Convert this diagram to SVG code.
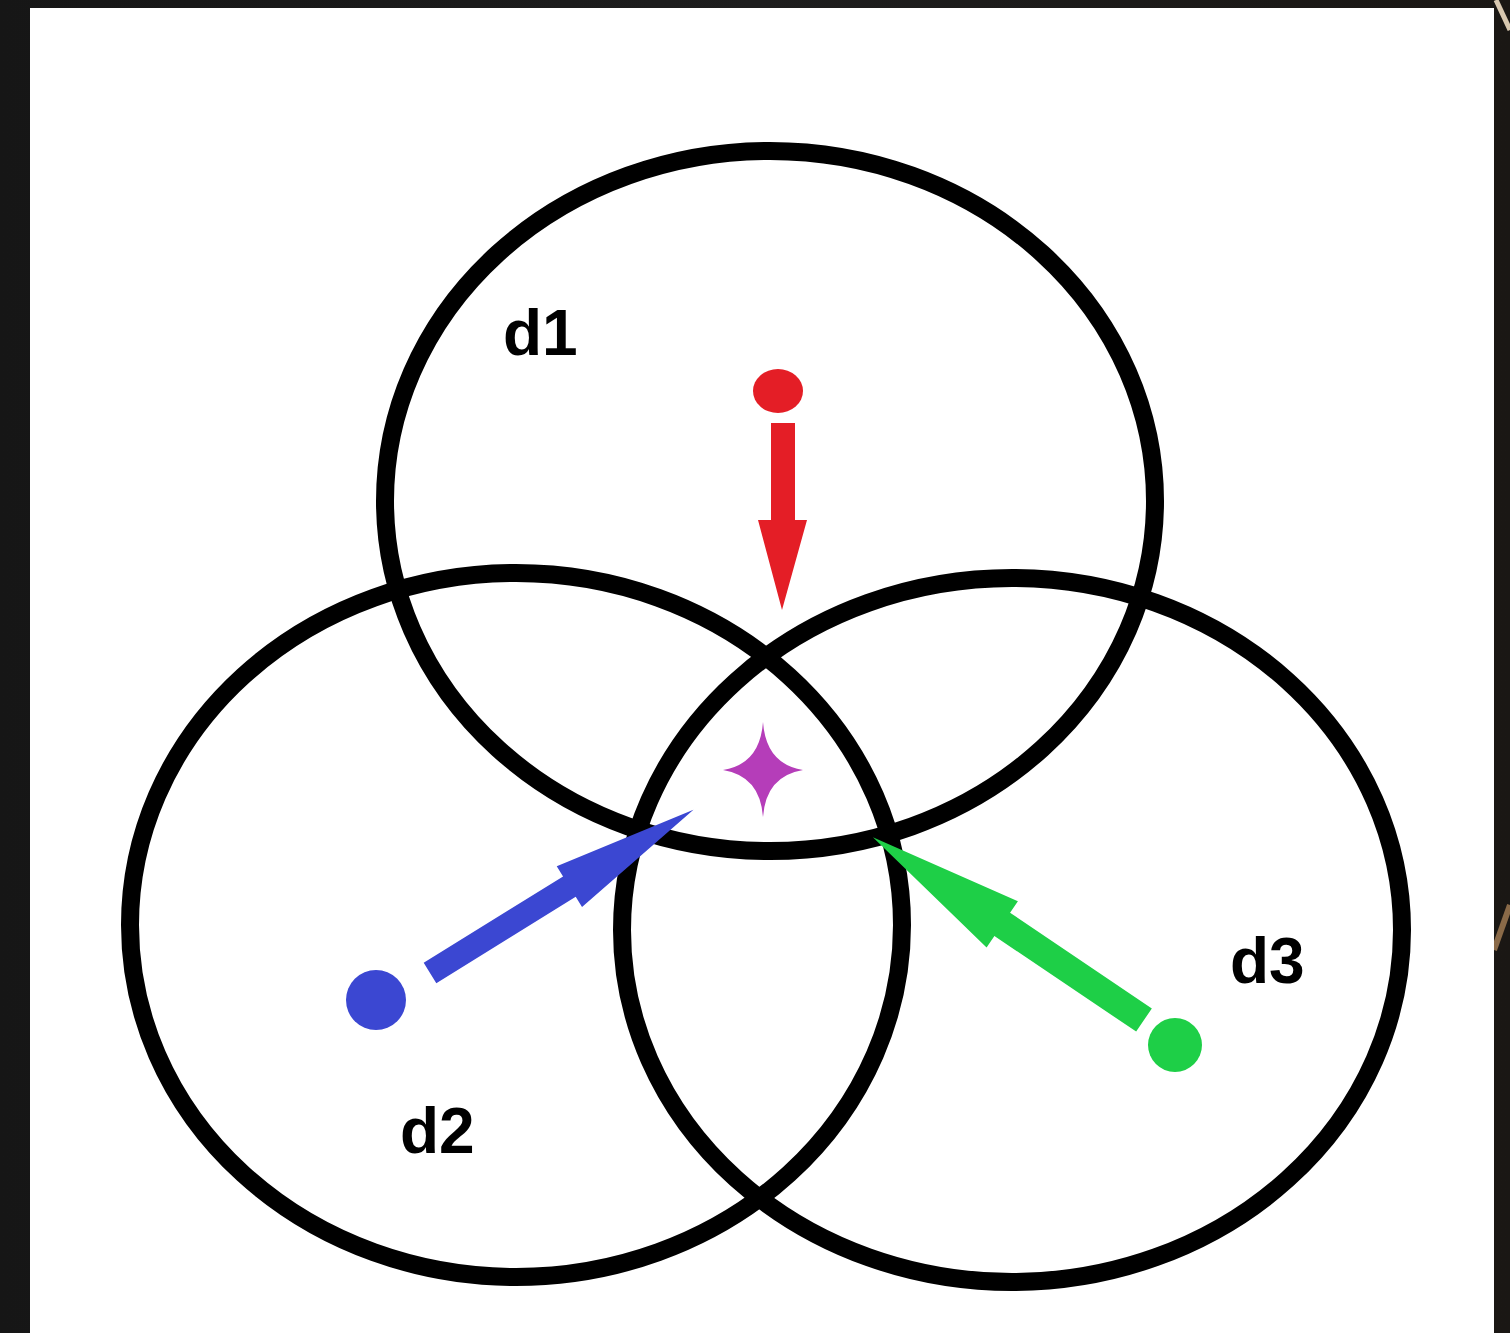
<svg xmlns="http://www.w3.org/2000/svg" width="1510" height="1333" viewBox="0 0 1510 1333">
<defs>
<style>
.ring{fill:none;stroke:#000;stroke-width:18}
.lbl{font-family:"Liberation Sans",Arial,sans-serif;font-weight:bold;font-size:64px;fill:#000}
</style>
<linearGradient id="bg" x1="0" y1="0" x2="1" y2="0">
<stop offset="0" stop-color="#161616"/>
<stop offset="0.5" stop-color="#1e1e1e"/>
<stop offset="1" stop-color="#1a1714"/>
</linearGradient>
</defs>
<rect x="0" y="0" width="1510" height="1333" fill="url(#bg)"/>
<path d="M1496,0 L1510,30" stroke="#d8c8b0" stroke-width="5"/>
<path d="M1494,950 L1510,905" stroke="#8a6a48" stroke-width="6"/>
<rect x="30" y="8" width="1464" height="1325" fill="#fff"/>
<g id="circle-d1"><ellipse class="ring" cx="770" cy="501" rx="385" ry="350"/></g>
<g id="circle-d2"><ellipse class="ring" cx="516" cy="925" rx="386" ry="352"/></g>
<g id="circle-d3"><ellipse class="ring" cx="1012" cy="930" rx="390" ry="352"/></g>
<g id="node-red"><ellipse cx="778" cy="391" rx="25" ry="22" fill="#e41e26"/></g>
<g id="node-blue"><circle cx="376" cy="1000" r="30" fill="#3b47d2"/></g>
<g id="node-green"><circle cx="1175" cy="1045" r="27" fill="#1ecf47"/></g>
<g id="node-star"><path d="M763,722 Q766,764 803,770 Q766,776 763,817 Q760,776 723,770 Q760,764 763,722 Z" fill="#b53db9"/></g>
<g id="connectors">
<polygon fill="#e41e26" points="771,423 795,423 795,520 807,520 782,610 758,520 771,520"/>
<g transform="translate(430,973) rotate(-31.8)"><polygon fill="#3b47d2" points="0,-12 164,-12 164,-24 310,0 164,24 164,12 0,12"/></g>
<g transform="translate(1144,1020) rotate(-146)"><polygon fill="#1ecf47" points="0,-14 171,-14 171,-28 327,0 171,28 171,14 0,14"/></g>
</g>
<g id="labels">
<text class="lbl" x="503" y="355">d1</text>
<text class="lbl" x="400" y="1153">d2</text>
<text class="lbl" x="1230" y="983">d3</text>
</g>
</svg>
